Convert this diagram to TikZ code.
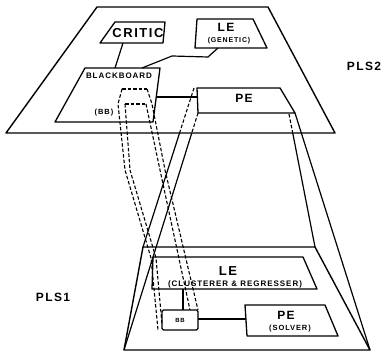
\documentclass[tikz,border=0pt]{standalone}
\usepackage{fontspec}
\setmainfont{Liberation Sans}
\newfontfamily\ltr[LetterSpace=12]{Liberation Sans}
\tikzset{
  pl/.style={draw,line width=1.4pt,line join=round},
  bx/.style={draw,line width=1.3pt,line join=round},
  ln/.style={line width=1.2pt},
  hid/.style={line width=1.1pt,dash pattern=on 3.5pt off 2pt},
  lab/.style={inner sep=0pt,font=\ltr\bfseries},
}
\begin{document}
\begin{tikzpicture}[x=1pt,y=-1pt]
  \useasboundingbox (0,0) rectangle (387,352);
  % planes
  \coordinate (u1) at (97,7);   \coordinate (u2) at (268,7);
  \coordinate (u3) at (335,133); \coordinate (u4) at (6,133);
  \coordinate (w1) at (143,247); \coordinate (w2) at (315,247);
  \coordinate (w3) at (370,350); \coordinate (w4) at (124,350);
  \draw[pl] (u1) -- (u2) -- (u3) -- (u4) -- cycle;
  \draw[pl] (w1) -- (w2) -- (w3) -- (w4) -- cycle;
  % PLS2 boxes
  \draw[bx] (115,22) -- (165,22) -- (163,43) -- (100,43) -- cycle;
  \draw[bx] (197,19) -- (253,19) -- (267,48) -- (195,48) -- cycle;
  \draw[bx] (85,68) -- (160,68) -- (153,122) -- (55,122) -- cycle;
  \draw[bx] (197,88) -- (280,88) -- (295,113) -- (198,113) -- cycle;
  \node[lab,font=\ltr\bfseries\fontsize{13}{13}\selectfont] (critic) at (138,33) {CRITIC};
  \node[lab,font=\ltr\bfseries\fontsize{12}{12}\selectfont] (leg) at (226,27) {LE};
  \node[lab,font=\ltr\bfseries\fontsize{7}{7}\selectfont] (gen) at (229,41) {(GENETIC)};
  \node[lab,font=\ltr\bfseries\fontsize{8}{8}\selectfont] (black) at (119,76) {BLACKBOARD};
  \node[lab,font=\ltr\bfseries\fontsize{7.5}{7.5}\selectfont] (bbup) at (104,113) {(BB)};
  \node[lab,font=\ltr\bfseries\fontsize{12}{12}\selectfont] (peup) at (244,98) {PE};
  \node[lab,font=\ltr\bfseries\fontsize{12}{12}\selectfont] (pls2) at (364,66) {PLS2};
  \coordinate (c1) at (123,43);  \coordinate (c2) at (115,68);
  \coordinate (g1) at (218,48);  \coordinate (g2) at (142,68);
  \coordinate (k1) at (156,97);  \coordinate (k2) at (197,97);
  \draw[ln] (c1) -- (c2);
  \draw[ln] (g1) -- (208,57) -- (172,56) -- (g2);
  \draw[ln] (k1) -- (k2);
  % PLS1 boxes
  \draw[bx] (153,257) -- (303,257) -- (317,289) -- (152,289) -- cycle;
  \draw[bx,rounded corners=1.5pt] (162,310) rectangle (198,330);
  \draw[bx] (245,305) -- (325,305) -- (338,336) -- (247,336) -- cycle;
  \node[lab,font=\ltr\bfseries\fontsize{13}{13}\selectfont] (ledn) at (228,271) {LE};
  \node[lab,font=\ltr\bfseries\fontsize{8}{8}\selectfont] (clus) at (235,284) {(CLUSTERER \& REGRESSER)};
  \node[lab,font=\ltr\bfseries\fontsize{6}{6}\selectfont] (bbdn) at (180,320) {BB};
  \node[lab,font=\ltr\bfseries\fontsize{12}{12}\selectfont] (pedn) at (286,315) {PE};
  \node[lab,font=\ltr\bfseries\fontsize{7.5}{7.5}\selectfont] (solv) at (290,329) {(SOLVER)};
  \node[lab,font=\ltr\bfseries\fontsize{12}{12}\selectfont] (pls1) at (53,297) {PLS1};
  \coordinate (m1) at (183,289); \coordinate (m2) at (183,310);
  \coordinate (s1) at (198,319); \coordinate (s2) at (246,319);
  \draw[ln] (m1) -- (m2);
  \draw[ln] (s1) -- (s2);
  % frustum from PE down to PLS1
  \coordinate (pa) at (194,88);  \coordinate (pb) at (198,113);
  \coordinate (pc) at (289,114); \coordinate (pd) at (295,113);
  \coordinate (xa) at (intersection of pa--w1 and u4--u3);
  \coordinate (xb) at (intersection of pb--w4 and u4--u3);
  \coordinate (xc) at (intersection of pc--w2 and u4--u3);
  \draw[hid] (pa) -- (xa); \draw[ln] (xa) -- (w1);
  \draw[hid] (pb) -- (xb); \draw[ln] (xb) -- (w4);
  \draw[hid] (pc) -- (xc); \draw[ln] (xc) -- (w2);
  \draw[ln] (pd) -- (w3);
  % blackboard link (BB)
  \draw[hid] (122,89) -- (147,89);
  \draw[hid] (125,104) -- (146,104);
  \draw[hid] (122,89) -- (118,104) -- (125,170) -- (151,258) -- (158,330);
  \draw[hid] (125,104) -- (130,170) -- (156,258) -- (162,324);
  \draw[hid] (147,89) -- (152,104) -- (165,170) -- (198,310);
  \draw[hid] (146,104) -- (160,170) -- (190,310);
\end{tikzpicture}
\end{document}
